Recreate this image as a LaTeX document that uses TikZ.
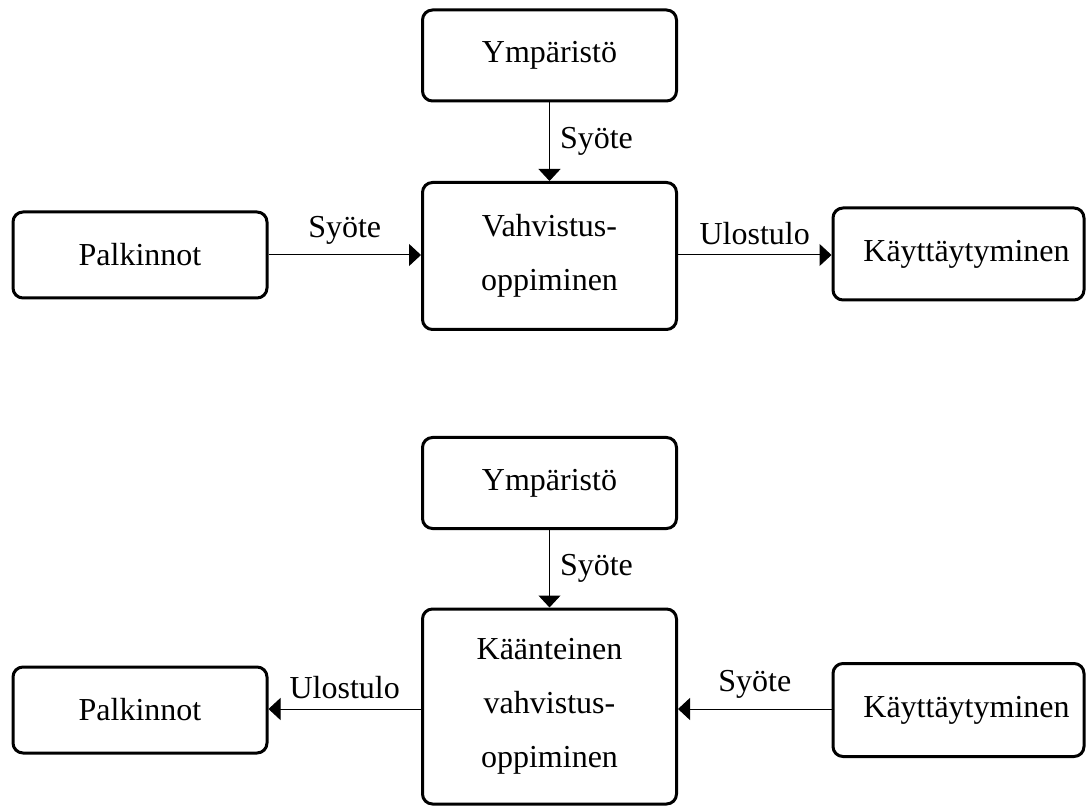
\documentclass[tikz,border=0pt]{standalone}
\usepackage{fontspec}
\setmainfont{Liberation Serif}
\usetikzlibrary{arrows.meta}
\begin{document}
\begin{tikzpicture}[x=0.5pt,y=-0.5pt,
  box/.style={draw, line width=1.5pt, rounded corners=5pt, align=center,
    font=\fontsize{16}{27}\selectfont, inner sep=0pt},
  conn/.style={line width=0.5pt, -{Triangle[width=11pt,length=6pt]}},
  lbl/.style={font=\fontsize{16}{19}\selectfont, inner sep=3pt}]
\useasboundingbox (0,0) rectangle (1087,807);
% top diagram
\node[box, minimum width=127pt, minimum height=45.5pt] (y1) at (549.5,55.5) {Ympäristö};
\node[box, minimum width=127pt, minimum height=73.5pt] (v1) at (549.5,256) {Vahvistus-\\oppiminen};
\node[box, minimum width=127pt, minimum height=43pt] (p1) at (140,255) {Palkinnot};
\node[box, minimum width=125.5pt, minimum height=46pt] (k1) at (958.5,254) {\hspace*{8pt}Käyttäytyminen};
\draw[conn] (y1) -- node[lbl, right, xshift=2pt] {Syöte} (v1);
\draw[conn] (p1.east |- 0,255) -- node[lbl, above, yshift=2pt] {Syöte} (v1.west |- 0,255);
\draw[conn] (v1.east |- 0,255) -- node[lbl, above, yshift=2pt] {Ulostulo} (k1.west |- 0,255);
% bottom diagram
\node[box, minimum width=127pt, minimum height=45.5pt] (y2) at (549.5,483) {Ympäristö};
\node[box, minimum width=127pt, minimum height=97.5pt] (v2) at (549.5,706.5) {Käänteinen\\vahvistus-\\oppiminen};
\node[box, minimum width=127pt, minimum height=43pt] (p2) at (140,710) {Palkinnot};
\node[box, minimum width=125.5pt, minimum height=46.5pt] (k2) at (958.5,710) {\hspace*{8pt}Käyttäytyminen};
\draw[conn] (y2) -- node[lbl, right, xshift=2pt] {Syöte} (v2);
\draw[conn] (v2.west |- 0,709) -- node[lbl, above, yshift=2pt] {Ulostulo} (p2.east |- 0,709);
\draw[conn] (k2.west |- 0,709) -- node[lbl, above, yshift=2pt] {Syöte} (v2.east |- 0,709);
\end{tikzpicture}
\end{document}
